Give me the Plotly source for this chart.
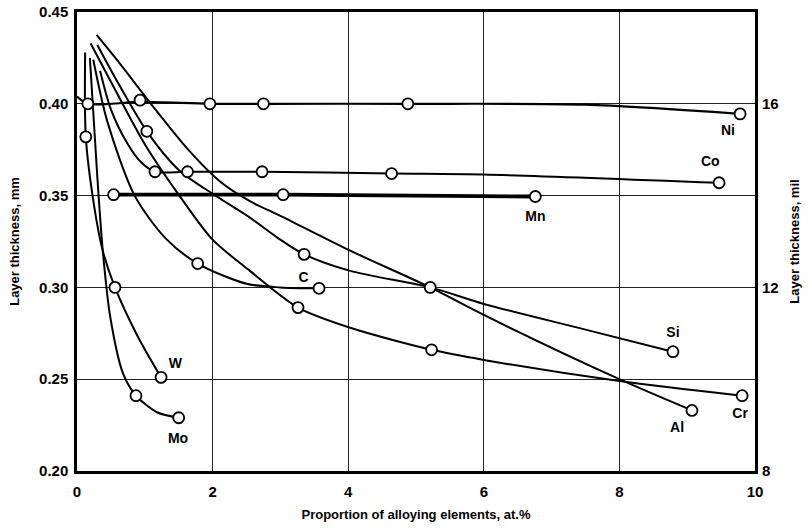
import plotly.graph_objects as go

# ---- data (x: at.%, y: mm) ----
ni_x = [0.0, 0.16, 0.93, 1.96, 2.75, 4.88, 7.5, 9.78]
ni_y = [0.404, 0.400, 0.401, 0.400, 0.400, 0.400, 0.3995, 0.3945]
ni_mx = [0.16, 0.93, 1.96, 2.75, 4.88, 9.78]
ni_my = [0.400, 0.402, 0.400, 0.400, 0.400, 0.3945]

co_x = [0.34, 0.5, 0.75, 0.95, 1.15, 1.63, 2.73, 4.64, 6.0, 9.47]
co_y = [0.418, 0.397, 0.378, 0.368, 0.363, 0.363, 0.363, 0.362, 0.3615, 0.357]
co_mx = [1.15, 1.63, 2.73, 4.64, 9.47]
co_my = [0.363, 0.363, 0.363, 0.362, 0.357]

mn_x = [0.54, 3.04, 6.76]
mn_y = [0.3505, 0.3505, 0.3495]

c_x = [0.24, 0.45, 0.85, 1.3, 1.78, 2.5, 3.0, 3.57]
c_y = [0.424, 0.39, 0.35, 0.327, 0.313, 0.302, 0.300, 0.2995]
c_mx = [1.78, 3.57]
c_my = [0.313, 0.2995]

si_x = [0.30, 0.55, 1.03, 1.5, 2.0, 2.55, 2.96, 3.35, 4.03, 5.21, 6.0, 7.5, 8.79]
si_y = [0.432, 0.415, 0.385, 0.364, 0.351, 0.338, 0.327, 0.318, 0.309, 0.300, 0.291, 0.277, 0.265]
si_mx = [1.03, 3.35, 5.21, 8.79]
si_my = [0.385, 0.318, 0.300, 0.265]

al_x = [0.29, 0.63, 1.09, 1.64, 2.1, 2.55, 3.0, 4.03, 5.21, 6.0, 8.0, 9.07]
al_y = [0.4375, 0.422, 0.400, 0.375, 0.358, 0.347, 0.339, 0.320, 0.300, 0.285, 0.250, 0.233]
al_mx = [9.07]
al_my = [0.233]

cr_x = [0.20, 0.5, 1.0, 1.51, 2.0, 2.55, 3.26, 4.03, 5.23, 6.0, 8.0, 9.81]
cr_y = [0.433, 0.412, 0.378, 0.350, 0.326, 0.309, 0.289, 0.278, 0.266, 0.2605, 0.249, 0.241]
cr_mx = [3.26, 5.23, 9.81]
cr_my = [0.289, 0.266, 0.241]

w_x = [0.12, 0.13, 0.25, 0.38, 0.56, 0.9, 1.24]
w_y = [0.428, 0.382, 0.345, 0.320, 0.300, 0.273, 0.251]
w_mx = [0.13, 0.56, 1.24]
w_my = [0.382, 0.300, 0.251]

mo_x = [0.19, 0.30, 0.38, 0.49, 0.68, 0.87, 1.18, 1.50]
mo_y = [0.425, 0.36, 0.32, 0.284, 0.253, 0.241, 0.232, 0.229]
mo_mx = [0.87, 1.50]
mo_my = [0.241, 0.229]

labels = ["Ni", "Co", "Mn", "C", "Si", "Al", "Cr", "W", "Mo"]
label_x = [9.6, 9.34, 6.76, 3.34, 8.79, 8.85, 9.78, 1.45, 1.49]
label_y = [0.385, 0.368, 0.338, 0.305, 0.275, 0.223, 0.231, 0.258, 0.217]

x_ticks = [0, 2, 4, 6, 8, 10]
y_ticks = [0.20, 0.25, 0.30, 0.35, 0.40, 0.45]
mil_ticks = [8, 12, 16]

FONT = "Liberation Sans"

fig = go.Figure()

curves = [
    (ni_x, ni_y, ni_mx, ni_my, 2.2),
    (co_x, co_y, co_mx, co_my, 2.0),
    (mn_x, mn_y, mn_x, mn_y, 3.8),
    (c_x, c_y, c_mx, c_my, 2.0),
    (si_x, si_y, si_mx, si_my, 2.0),
    (al_x, al_y, al_mx, al_my, 2.0),
    (cr_x, cr_y, cr_mx, cr_my, 2.0),
    (w_x, w_y, w_mx, w_my, 2.0),
    (mo_x, mo_y, mo_mx, mo_my, 2.0),
]

for lx, ly, mx, my, lw in curves:
    fig.add_trace(go.Scatter(
        x=lx, y=ly, mode="lines",
        line=dict(color="black", width=lw, shape="spline", smoothing=0.8),
        showlegend=False, hoverinfo="skip", cliponaxis=False))
for lx, ly, mx, my, lw in curves:
    fig.add_trace(go.Scatter(
        x=mx, y=my, mode="markers",
        marker=dict(symbol="circle", size=11, color="white",
                    line=dict(color="black", width=1.8)),
        showlegend=False, hoverinfo="skip", cliponaxis=False))

fig.add_trace(go.Scatter(
    x=label_x, y=label_y, mode="text", text=labels,
    textfont=dict(family=FONT, size=14, color="black", weight=700),
    showlegend=False, hoverinfo="skip"))

# invisible trace so that the secondary (mil) axis is drawn
fig.add_trace(go.Scatter(
    x=[x_ticks[0]] * len(mil_ticks), y=mil_ticks, yaxis="y2", mode="markers",
    marker=dict(opacity=0, size=1), showlegend=False, hoverinfo="skip"))

axis_common = dict(
    showline=True, linecolor="black", linewidth=2.5,
    gridcolor="#222222", gridwidth=1, zeroline=False, automargin=False,
    ticks="", tickfont=dict(family=FONT, size=15, color="black", weight=700),
)

fig.update_layout(
    width=812, height=528,
    margin=dict(l=77, r=57, t=12, b=57),
    paper_bgcolor="white", plot_bgcolor="white",
    xaxis=dict(
        range=[0, 10], tickvals=x_ticks, ticktext=[str(v) for v in x_ticks],
        mirror=True, ticklabelstandoff=5,
        title=dict(text="Proportion of alloying elements, at.%",
                   font=dict(family=FONT, size=13, color="black", weight=700),
                   standoff=12),
        **axis_common),
    yaxis=dict(
        range=[0.20, 0.45], tickvals=y_ticks,
        ticktext=["%.2f" % v for v in y_ticks],
        mirror=True, ticklabelstandoff=3,
        title=dict(text="Layer thickness, mm",
                   font=dict(family=FONT, size=13, color="black", weight=700),
                   standoff=17),
        **axis_common),
    yaxis2=dict(
        overlaying="y", side="right", range=[8, 18], tickvals=mil_ticks,
        ticktext=[str(v) for v in mil_ticks], showgrid=False,
        showline=False, zeroline=False, ticks="", automargin=False,
        tickfont=dict(family=FONT, size=15, color="black", weight=700),
        ticklabelstandoff=6,
        title=dict(text="Layer thickness, mil",
                   font=dict(family=FONT, size=13, color="black", weight=700),
                   standoff=12)),
)

fig.write_html("out.html")
